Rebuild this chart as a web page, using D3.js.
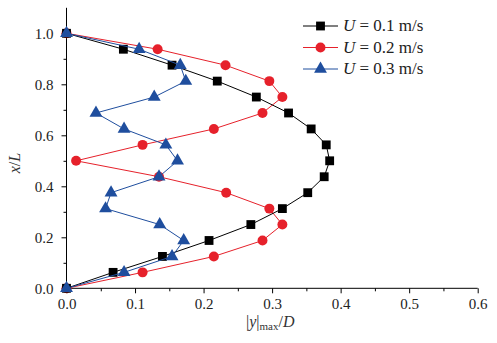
<!DOCTYPE html>
<html>
<head>
<meta charset="utf-8">
<script src="https://cdn.jsdelivr.net/npm/d3@7"></script>
<style>
  html, body { margin: 0; padding: 0; background: #fff; }
  svg text { font-family: "Liberation Serif", "Times New Roman", Times, "DejaVu Serif", serif !important; }
</style>
</head>
<body>
<svg id="chart" width="497" height="343"></svg>
<script>
// Normalised position along the pipe, x/L
const positions = [0, 0.0625, 0.125, 0.1875, 0.25, 0.3125, 0.375, 0.4375, 0.5,
                   0.5625, 0.625, 0.6875, 0.75, 0.8125, 0.875, 0.9375, 1.0];

// Maximum displacement amplitude |y|max/D for each flow velocity
const amp01 = [0, 0.068, 0.140, 0.208, 0.269, 0.315, 0.352, 0.376, 0.384,
               0.379, 0.357, 0.324, 0.277, 0.220, 0.154, 0.083, 0];
const amp02 = [0, 0.111, 0.215, 0.286, 0.315, 0.296, 0.233, 0.135, 0.014,
               0.111, 0.215, 0.286, 0.315, 0.296, 0.232, 0.133, 0];
const amp03 = [0, 0.084, 0.154, 0.171, 0.136, 0.057, 0.065, 0.135, 0.162,
               0.145, 0.084, 0.043, 0.128, 0.174, 0.166, 0.106, 0];

const seriesNames = ["0.1 m/s", "0.2 m/s", "0.3 m/s"];
const xTicks = [0, 0.1, 0.2, 0.3, 0.4, 0.5, 0.6];
const yTicks = [0, 0.2, 0.4, 0.6, 0.8, 1.0];

const svg = d3.select("#chart");
const x = d3.scaleLinear().domain([0, 0.6]).range([66.5, 477.7]);
const y = d3.scaleLinear().domain([0, 1.1]).range([288.3, 7.8]);

const series = [
  { name: seriesNames[0], values: amp01, color: "#000000", shape: "square" },
  { name: seriesNames[1], values: amp02, color: "#e6212b", shape: "circle" },
  { name: seriesNames[2], values: amp03, color: "#1f4e9e", shape: "triangle" }
];

const symbolOf = {
  square: d3.symbol().type(d3.symbolSquare).size(78),
  circle: d3.symbol().type(d3.symbolCircle).size(78),
  triangle: d3.symbol().type(d3.symbolTriangle).size(72)
};

// Axes: labelled major ticks plus unlabelled minor ticks
const fmt = d3.format(".1f");
const gx = svg.append("g").attr("transform", `translate(0,${y(0)})`);
gx.call(d3.axisBottom(x).tickValues(xTicks).tickFormat(fmt).tickSize(5).tickPadding(5));
const gxm = svg.append("g").attr("transform", `translate(0,${y(0)})`);
gxm.call(d3.axisBottom(x).tickValues(d3.range(0.05, 0.6, 0.1)).tickFormat("").tickSize(3));
gxm.select(".domain").remove();

const gy = svg.append("g").attr("transform", `translate(${x(0)},0)`);
gy.call(d3.axisLeft(y).tickValues(yTicks).tickFormat(fmt).tickSize(5).tickPadding(8));
const gym = svg.append("g").attr("transform", `translate(${x(0)},0)`);
gym.call(d3.axisLeft(y).tickValues([0.1, 0.3, 0.5, 0.7, 0.9]).tickFormat("").tickSize(3));
gym.select(".domain").remove();

[gx, gy, gxm, gym].forEach(g => {
  g.attr("font-family", null);
  g.selectAll("path,line").attr("stroke", "#000").attr("stroke-width", 1);
  g.selectAll("text").attr("font-size", 15).attr("fill", "#222");
});
gx.select(".domain").attr("d", `M${x(0)},0H${x(0.6)}`);
gy.select(".domain").attr("d", `M0,${y(0)}V${y(1.1)}`);

// Curves: red first, then black, then blue on top
const line = d3.line().x(d => x(d[0])).y(d => y(d[1]));
const drawOrder = [series[1], series[0], series[2]];
drawOrder.forEach(s => {
  const pts = s.values.map((v, i) => [v, positions[i]]);
  svg.append("path").datum(pts)
    .attr("d", line).attr("fill", "none")
    .attr("stroke", s.color).attr("stroke-width", 1);
  svg.append("g").selectAll("path").data(pts).join("path")
    .attr("d", symbolOf[s.shape])
    .attr("transform", d => `translate(${x(d[0])},${y(d[1])})`)
    .attr("fill", s.color);
});

// Legend
const legend = svg.append("g");
series.forEach((s, i) => {
  const ly = 26 + i * 21.5;
  legend.append("line").attr("x1", 303).attr("x2", 338).attr("y1", ly).attr("y2", ly)
    .attr("stroke", s.color).attr("stroke-width", 1);
  legend.append("path").attr("d", symbolOf[s.shape])
    .attr("transform", `translate(320.5,${ly})`).attr("fill", s.color);
  const t = legend.append("text").attr("x", 343).attr("y", ly + 5)
    .attr("font-size", 17).attr("fill", "#222");
  t.append("tspan").attr("font-style", "italic").text("U");
  t.append("tspan").text(" = " + s.name);
});

// Axis titles
const xl = svg.append("text").attr("x", 246).attr("y", 327)
  .attr("font-size", 16).attr("fill", "#333");
xl.append("tspan").text("|");
xl.append("tspan").attr("font-style", "italic").text("y");
xl.append("tspan").text("|");
xl.append("tspan").attr("font-size", 11).attr("dy", 3).text("max");
xl.append("tspan").attr("dy", -3).text("/");
xl.append("tspan").attr("font-style", "italic").text("D");

const yl = svg.append("text")
  .attr("transform", "translate(20,163) rotate(-90)")
  .attr("text-anchor", "middle").attr("font-size", 16).attr("fill", "#333");
yl.append("tspan").attr("font-style", "italic").text("x");
yl.append("tspan").text("/");
yl.append("tspan").attr("font-style", "italic").text("L");
</script>
</body>
</html>
